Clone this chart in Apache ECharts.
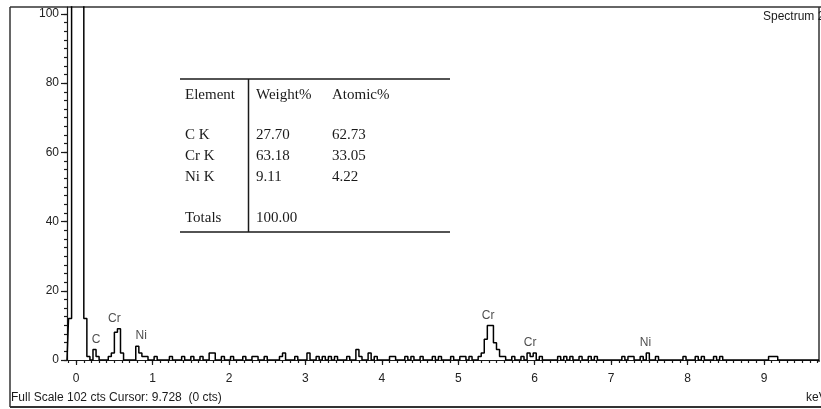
<!DOCTYPE html>
<html>
<head>
<meta charset="utf-8">
<script src="https://cdn.jsdelivr.net/npm/echarts@6.0.0/dist/echarts.min.js"></script>
<style>
  body { margin: 0; background: #fff; }
  #main { width: 821px; height: 409px; }
</style>
</head>
<body>
<div id="main"></div>
<script>
// EDS spectrum, counts per 0.04 keV channel starting at -0.12 keV
const startKeV = -0.12;
const channelWidth = 0.04;
const counts = [
    0, 12, 300, 300, 300, 300, 12, 1, 0, 3, 1, 0, 0, 0, 1, 2, 8, 9, 2, 0,
    0, 0, 0, 4, 2, 1, 1, 0, 0, 1, 0, 0, 0, 0, 1, 0, 0, 0, 1, 0,
    0, 1, 0, 0, 1, 0, 0, 2, 2, 0, 0, 1, 0, 0, 1, 0, 0, 0, 1, 0,
    0, 1, 1, 0, 0, 1, 0, 0, 0, 0, 1, 2, 0, 0, 0, 1, 0, 0, 0, 2,
    0, 0, 1, 0, 1, 0, 1, 0, 1, 0, 0, 0, 1, 0, 0, 3, 1, 0, 0, 2,
    0, 1, 0, 0, 0, 0, 1, 1, 0, 0, 0, 1, 0, 1, 0, 0, 1, 0, 0, 0,
    1, 0, 1, 0, 0, 0, 1, 0, 0, 1, 1, 0, 1, 0, 0, 1, 2, 6, 10, 10,
    5, 3, 1, 1, 0, 0, 1, 0, 0, 1, 0, 2, 1, 2, 0, 1, 0, 0, 0, 0,
    0, 1, 0, 1, 0, 1, 0, 0, 1, 0, 0, 1, 0, 1, 0, 0, 0, 0, 0, 0,
    0, 0, 1, 0, 1, 1, 0, 0, 1, 0, 2, 0, 0, 1, 0, 0, 0, 0, 0, 0,
    0, 0, 1, 0, 0, 0, 1, 0, 1, 0, 0, 0, 1, 0, 1, 0, 0, 0, 0, 0,
    0, 0, 0, 0, 0, 0, 0, 0, 0, 0, 1, 1, 1, 0, 0, 0, 0, 0, 0, 0,
    0, 0, 0, 0, 0, 0, 0
];

// peak markers
const peakNames = ['C', 'Cr', 'Ni', 'Cr', 'Cr', 'Ni'];
const peakKeV = [0.26, 0.50, 0.85, 5.39, 5.94, 7.45];
const peakCounts = [3, 9, 4, 10, 2, 2];

// axis ticks
const majorKeV = [0, 1, 2, 3, 4, 5, 6, 7, 8, 9];
const countTicks = [0, 20, 40, 60, 80, 100];

// quantification table
const tableElements = ['C K', 'Cr K', 'Ni K'];
const weightPct = ['27.70', '63.18', '9.11'];
const atomicPct = ['62.73', '33.05', '4.22'];
const totalWeight = '100.00';

let spectrum = counts.map((c, i) => [+(startKeV + i * channelWidth).toFixed(2), c]);

let minorKeV = [];
for (let i = -1; i <= 97; i++) minorKeV.push(+(i * 0.1).toFixed(1));
let minorCounts = [];
for (let i = 0; i <= 40; i++) minorCounts.push(i * 2.5);

const sans = "'Liberation Sans', Arial, sans-serif";
const serif = "'Liberation Serif', 'Times New Roman', serif";
const ink = '#1a1a1a';

let myChart = echarts.init(document.getElementById('main'));

// table drawn as graphic text
let tableGraphics = [
    { type: 'line', shape: { x1: 180, y1: 79, x2: 450, y2: 79 }, style: { stroke: ink, lineWidth: 1.5 } },
    { type: 'line', shape: { x1: 180, y1: 232, x2: 450, y2: 232 }, style: { stroke: ink, lineWidth: 1.5 } },
    { type: 'line', shape: { x1: 248.5, y1: 79, x2: 248.5, y2: 232 }, style: { stroke: ink, lineWidth: 1.5 } }
];
function cell(text, x, y) {
    return { type: 'text', x: x, y: y, style: { text: text, font: '15px ' + serif, fill: ink, verticalAlign: 'middle' } };
}
tableGraphics.push(cell('Element', 185, 95));
tableGraphics.push(cell('Weight%', 256, 95));
tableGraphics.push(cell('Atomic%', 332, 95));
tableElements.forEach((el, i) => {
    let y = 135 + i * 21;
    tableGraphics.push(cell(el, 185, y));
    tableGraphics.push(cell(weightPct[i], 256, y));
    tableGraphics.push(cell(atomicPct[i], 332, y));
});
tableGraphics.push(cell('Totals', 185, 218));
tableGraphics.push(cell(totalWeight, 256, 218));

let frameGraphics = [
    { type: 'line', shape: { x1: 10, y1: 7, x2: 821, y2: 7 }, style: { stroke: '#333', lineWidth: 1.5 } },
    { type: 'line', shape: { x1: 10, y1: 7, x2: 10, y2: 407 }, style: { stroke: '#333', lineWidth: 1.5 } },
    { type: 'line', shape: { x1: 10, y1: 407, x2: 821, y2: 407 }, style: { stroke: '#333', lineWidth: 2 } },
    { type: 'line', shape: { x1: 819, y1: 7, x2: 819, y2: 362 }, style: { stroke: '#333', lineWidth: 1.5 } },
    { type: 'text', x: 763, y: 17, style: { text: 'Spectrum 2', font: '12px ' + sans, fill: ink, verticalAlign: 'middle' } },
    { type: 'text', x: 11, y: 398, style: { text: 'Full Scale 102 cts Cursor: 9.728  (0 cts)', font: '12px ' + sans, fill: ink, verticalAlign: 'middle' } },
    { type: 'text', x: 806, y: 398, style: { text: 'keV', font: '12px ' + sans, fill: ink, verticalAlign: 'middle' } }
];

let axisLine = { show: true, onZero: false, lineStyle: { color: ink, width: 1.2 } };
let noLine = { show: false, onZero: false };

let option = {
    animation: false,
    grid: { left: 67, right: 2, top: 7, bottom: 49 },
    xAxis: [
        {
            type: 'value', min: -0.12, max: 9.72, position: 'bottom',
            axisLine: axisLine,
            axisTick: { show: true, customValues: majorKeV, length: 5, lineStyle: { color: ink, width: 1.2 } },
            axisLabel: { customValues: majorKeV, margin: 13, color: '#222', fontSize: 12, fontFamily: sans },
            splitLine: { show: false }
        },
        {
            type: 'value', min: -0.12, max: 9.72, position: 'bottom',
            axisLine: noLine,
            axisTick: { show: true, customValues: minorKeV, length: 3, lineStyle: { color: ink, width: 1.2 } },
            axisLabel: { show: false },
            splitLine: { show: false }
        }
    ],
    yAxis: [
        {
            type: 'value', min: 0, max: 102, position: 'left',
            axisLine: axisLine,
            axisTick: { show: true, customValues: countTicks, length: 6, lineStyle: { color: ink, width: 1.2 } },
            axisLabel: { customValues: countTicks, margin: 8, color: '#222', fontSize: 12, fontFamily: sans },
            splitLine: { show: false }
        },
        {
            type: 'value', min: 0, max: 102, position: 'left',
            axisLine: noLine,
            axisTick: { show: true, customValues: minorCounts, length: 3, lineStyle: { color: ink, width: 1.2 } },
            axisLabel: { show: false },
            splitLine: { show: false }
        }
    ],
    series: [
        {
            type: 'line',
            data: spectrum,
            step: 'middle',
            showSymbol: false,
            clip: true,
            lineStyle: { color: '#000', width: 1.5 }
        },
        {
            type: 'scatter',
            data: peakKeV.map((k, i) => ({ value: [k, peakCounts[i]], name: peakNames[i] })),
            symbolSize: 0,
            label: {
                show: true, position: 'top', distance: 4,
                formatter: p => p.name,
                color: '#222', fontSize: 12, fontFamily: sans
            }
        }
    ],
    graphic: frameGraphics.concat(tableGraphics)
};

myChart.setOption(option);
</script>
</body>
</html>
